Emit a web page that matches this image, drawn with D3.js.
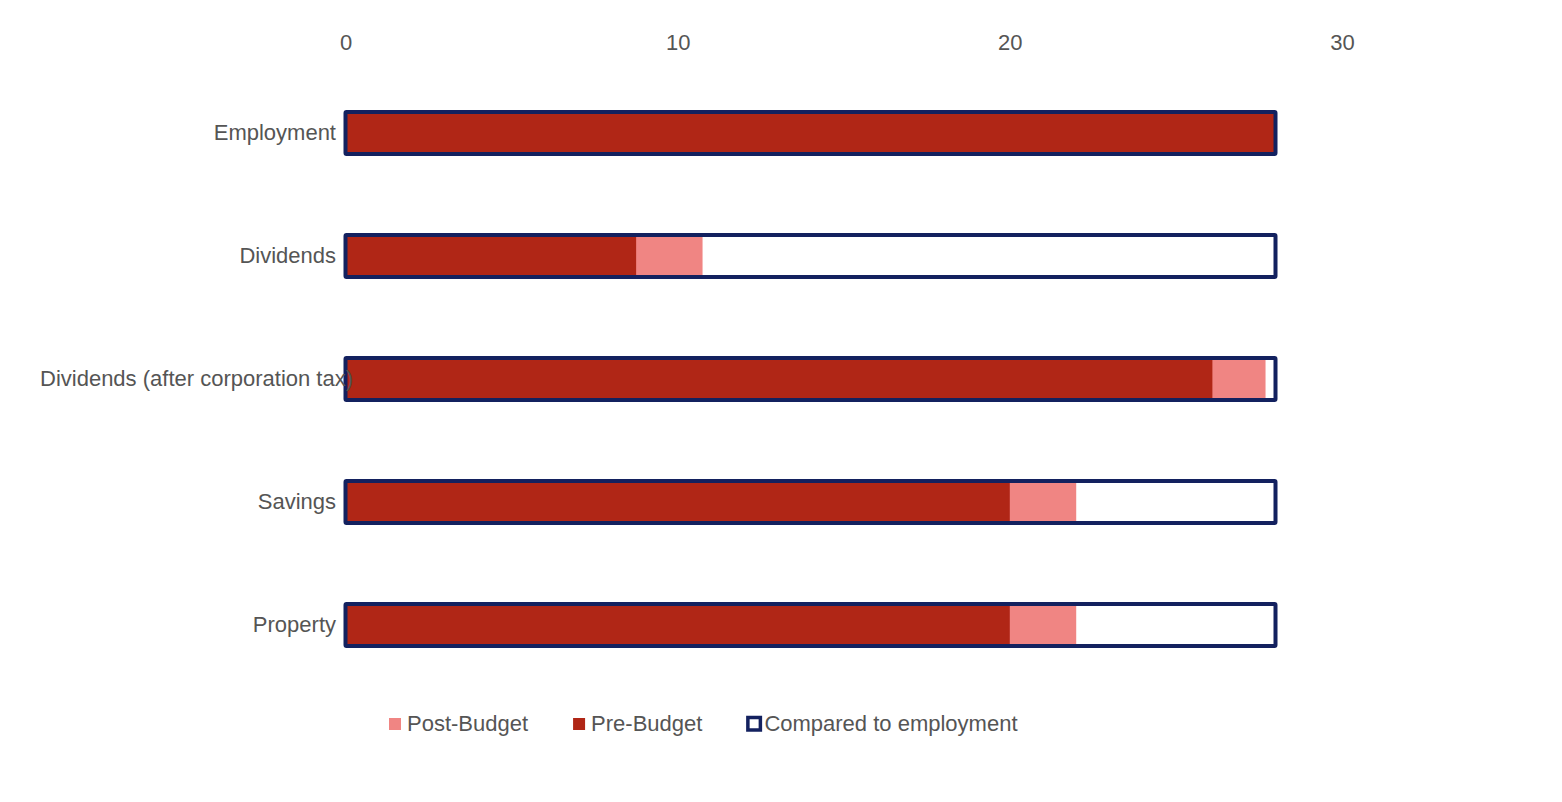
<!DOCTYPE html>
<html>
<head>
<meta charset="utf-8">
<script src="https://cdn.jsdelivr.net/npm/d3@7"></script>
<style>
  body { margin: 0; background: #fff; }
  text { font-family: "Liberation Sans", Arial, sans-serif; fill: #555; }
</style>
</head>
<body>
<svg id="chart" width="1562" height="802"></svg>
<script>
var categories = ['Employment', 'Dividends', 'Dividends (after corporation tax)', 'Savings', 'Property'];
var preBudget = [28, 8.75, 26.1, 20, 20];
var postBudget = [28, 10.75, 27.7, 22, 22];
var employment = [28, 28, 28, 28, 28];
var xTicks = [0, 10, 20, 30];
var legendLabels = ['Post-Budget', 'Pre-Budget', 'Compared to employment'];

var colors = { post: '#f08583', pre: '#b02616', box: '#13215f' };

var svg = d3.select('#chart');

var x = d3.scaleLinear()
    .domain([0, 35])
    .range([345.5, 1508]);

var y = d3.scaleBand()
    .domain(categories)
    .range([71.5, 686.5])
    .paddingInner(0.658)
    .paddingOuter(0.329);

// top axis labels only
var axis = svg.append('g')
    .attr('transform', 'translate(0, 50)')
    .call(d3.axisTop(x).tickValues(xTicks).tickSize(0).tickPadding(0));
axis.select('.domain').remove();
axis.selectAll('text')
    .attr('dy', 0)
    .style('font-size', '22px')
    .style('font-family', '"Liberation Sans", Arial, sans-serif')
    .attr('fill', '#555');

var rows = categories.map(function(c, i) {
    return { cat: c, pre: preBudget[i], post: postBudget[i], emp: employment[i] };
});

var row = svg.selectAll('g.row')
    .data(rows)
    .enter().append('g')
    .attr('class', 'row');

row.append('rect')
    .attr('x', x(0))
    .attr('y', d => y(d.cat))
    .attr('width', d => x(d.post) - x(0))
    .attr('height', y.bandwidth())
    .attr('fill', colors.post);

row.append('rect')
    .attr('x', x(0))
    .attr('y', d => y(d.cat))
    .attr('width', d => x(d.pre) - x(0))
    .attr('height', y.bandwidth())
    .attr('fill', colors.pre);

row.append('rect')
    .attr('x', x(0))
    .attr('y', d => y(d.cat))
    .attr('width', d => x(d.emp) - x(0))
    .attr('height', y.bandwidth())
    .attr('fill', 'none')
    .attr('stroke', colors.box)
    .attr('stroke-width', 4)
    .attr('rx', 1);

// category labels
row.append('text')
    .attr('x', 336)
    .attr('y', d => y(d.cat) + y.bandwidth() / 2)
    .attr('dy', '0.3em')
    .attr('text-anchor', 'end')
    .style('font-size', '22px')
    .text(d => d.cat)
    .each(function() {
        var w = this.getComputedTextLength();
        if (336 - w < 40) {
            d3.select(this).attr('text-anchor', 'start').attr('x', 40);
        }
    });

// legend
var lx = 389;
var ly = 724;
legendLabels.forEach(function(label, i) {
    var g = svg.append('g');
    if (i === 2) {
        g.append('rect')
            .attr('x', lx + 0.5).attr('y', ly - 6.5)
            .attr('width', 12.5).attr('height', 12.5)
            .attr('fill', '#fff')
            .attr('stroke', colors.box)
            .attr('stroke-width', 3.5);
    } else {
        g.append('rect')
            .attr('x', lx).attr('y', ly - 6)
            .attr('width', 12).attr('height', 12)
            .attr('fill', i === 0 ? colors.post : colors.pre);
    }
    var tx = lx + (i === 2 ? 17 : 18);
    var t = g.append('text')
        .attr('x', tx)
        .attr('y', ly)
        .attr('dy', '0.33em')
        .style('font-size', '22px')
        .text(label);
    lx = tx + t.node().getComputedTextLength() + 45;
});
</script>
</body>
</html>
